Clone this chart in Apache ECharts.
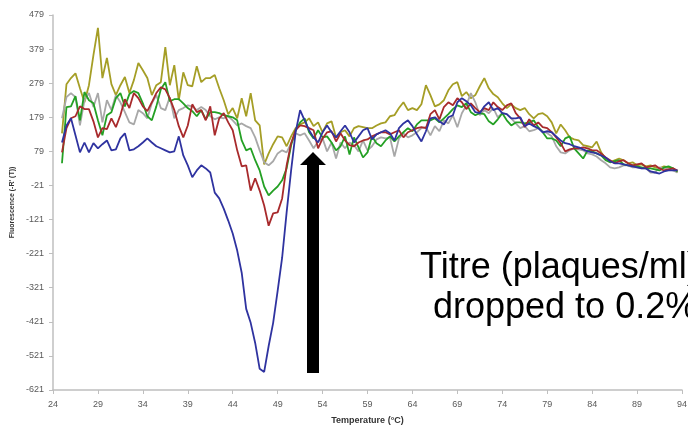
<!DOCTYPE html>
<html>
<head>
<meta charset="utf-8">
<script src="https://cdn.jsdelivr.net/npm/echarts@6/dist/echarts.min.js"></script>
<style>
html,body{margin:0;padding:0;background:#fff;}
#chart{width:688px;height:427px;}
</style>
</head>
<body>
<div id="chart"></div>
<script>
// Temperature (°C) sample points
const temps = [
25,25.5,26,26.5,27,27.5,28,28.5,29,29.5,
30,30.5,31,31.5,32,32.5,33,33.5,34,34.5,
35,35.5,36,36.5,37,37.5,38,38.5,39,39.5,
40,40.5,41,41.5,42,42.5,43,43.5,44,44.5,
45,45.5,46,46.5,47,47.5,48,48.5,49,49.5,
50,50.5,51,51.5,52,52.5,53,53.5,54,54.5,
55,55.5,56,56.5,57,57.5,58,58.5,59,59.5,
60,60.5,61,61.5,62,62.5,63,63.5,64,64.5,
65,65.5,66,66.5,67,67.5,68,68.5,69,69.5,
70,70.5,71,71.5,72,72.5,73,73.5,74,74.5,
75,75.5,76,76.5,77,77.5,78,78.5,79,79.5,
80,80.5,81,81.5,82,82.5,83,83.5,84,84.5,
85,85.5,86,86.5,87,87.5,88,88.5,89,89.5,
90,90.5,91,91.5,92,92.5,93,93.5
];

const blueSeries = [
105,155,176,126,76,105,76,103,88,100,
111,82,85,117,132,82,85,94,105,117,
105,94,88,82,76,79,123,67,38,3,
23,38,29,17,-42,-59,-89,-124,-162,-212,
-277,-383,-424,-483,-559,-568,-492,-424,-330,-233,
-100,23,135,200,170,141,120,105,135,155,
135,120,138,155,135,105,123,141,147,114,
129,135,141,132,111,147,161,170,153,129,
108,138,176,179,167,158,179,185,223,235,
226,214,194,191,211,223,200,206,191,188,
176,176,179,153,161,153,147,135,138,135,
123,111,103,100,94,91,85,79,76,73,
67,61,50,44,44,41,38,35,32,29,
29,20,17,14,20,23,23,23
];

const oliveSeries = [
132,276,294,308,264,223,273,361,441,294,
353,276,244,273,297,250,288,338,317,294,
244,273,282,385,273,332,229,311,273,270,
329,282,294,294,303,264,229,188,206,176,
235,182,250,170,155,41,73,100,123,120,
94,123,147,158,164,176,153,164,135,161,
167,120,135,141,123,147,153,150,147,147,
155,161,164,182,185,206,223,200,206,200,
217,273,244,211,217,229,258,276,282,241,
253,235,244,270,294,264,247,238,220,206,
217,206,200,206,188,176,188,191,182,164,
132,158,141,120,114,111,97,94,91,108,
76,58,47,53,58,53,44,47,38,41,
35,38,32,29,35,32,29,17
];

const graySeries = [
176,238,250,238,155,229,250,209,250,164,
229,200,244,223,194,164,158,200,191,176,
220,244,206,200,238,176,200,206,214,211,
200,209,200,182,173,179,176,182,170,155,
161,153,147,120,82,47,38,50,73,82,
76,103,132,126,132,111,88,108,117,79,
105,58,105,88,105,97,79,111,82,94,
114,120,117,120,64,117,132,120,126,135,
147,150,126,153,138,170,161,185,150,191,
214,250,223,185,200,191,206,179,191,188,
176,161,147,153,138,141,147,138,132,123,
94,76,73,82,88,85,82,73,70,64,
53,44,32,29,32,38,38,32,32,29,
29,17,17,32,29,26,23,17
];

const redSeries = [
76,147,176,182,211,203,203,167,120,147,
144,176,150,185,232,206,250,235,211,197,
223,250,267,261,235,200,153,120,155,217,
194,200,170,211,126,176,191,164,141,82,
35,38,-36,0,-36,-80,-139,-103,-100,-59,
38,103,141,155,153,147,141,88,117,135,
138,108,132,111,97,94,105,111,114,123,
129,135,135,129,135,141,120,135,141,147,
150,147,188,200,173,209,223,214,235,223,
203,220,206,194,206,200,223,209,200,214,
220,191,176,150,173,155,164,150,147,135,
120,103,79,85,88,88,91,88,82,82,
73,61,53,44,50,53,44,38,41,44,
32,35,38,29,23,26,29,23
];

const greenSeries = [
44,209,211,241,170,253,229,220,170,126,
185,194,235,250,211,247,256,250,220,182,
170,211,261,282,226,232,232,220,206,197,
182,200,173,194,194,191,185,182,179,170,
111,82,88,53,23,-24,-50,-36,-24,-6,
29,97,141,164,176,135,117,141,120,123,
105,82,94,123,70,120,91,61,76,123,
103,94,111,123,108,123,135,147,138,158,
170,170,170,176,164,176,188,203,214,209,
220,194,185,191,188,167,158,173,191,170,
155,164,164,161,164,170,150,135,117,117,
111,94,117,123,88,73,58,82,79,73,
67,53,47,50,53,41,38,38,35,32,
29,29,26,23,32,35,29,20
];

const xTicks = [24,29,34,39,44,49,54,59,64,69,74,79,84,89,94];
const yTicks = [-621,-521,-421,-321,-221,-121,-21,79,179,279,379,479];

const seriesDefs = [
  {name:'Olive', data: oliveSeries, color:'#A59E26'},
  {name:'Gray', data: graySeries, color:'#A8A8A8'},
  {name:'Green', data: greenSeries, color:'#24A024'},
  {name:'Red', data: redSeries, color:'#A82A2C'},
  {name:'Blue', data: blueSeries, color:'#2F33A0'}
];

const chart = echarts.init(document.getElementById('chart'), null, {renderer:'canvas'});
const labelFont = 'Liberation Sans, Arial, sans-serif';
chart.setOption({
  animation:false,
  backgroundColor:'#ffffff',
  grid:{left:53, right:6, top:15, bottom:37, outerBoundsMode:'none', containLabel:false},
  xAxis:{
    type:'value', min:24, max:94,
    name:'Temperature (°C)', nameLocation:'middle', nameGap:26,
    nameTextStyle:{fontSize:9, fontWeight:'bold', color:'#333', fontFamily:labelFont},
    axisLine:{show:true, onZero:false, lineStyle:{color:'#BFBFBF', width:1.5}},
    axisTick:{show:true, length:4, lineStyle:{color:'#BFBFBF'}, customValues:xTicks},
    axisLabel:{fontSize:9, color:'#595959', margin:10, fontFamily:labelFont, customValues:xTicks},
    splitLine:{show:false}
  },
  yAxis:{
    type:'value', min:-621, max:479,
    name:"Fluorescence (-R' (T))", nameLocation:'middle', nameGap:36, nameRotate:90,
    nameTextStyle:{fontSize:7, fontWeight:'bold', color:'#333', fontFamily:labelFont},
    axisLine:{show:true, onZero:false, lineStyle:{color:'#BFBFBF', width:1.5}},
    axisTick:{show:true, length:4, lineStyle:{color:'#BFBFBF'}, customValues:yTicks},
    axisLabel:{fontSize:9, color:'#595959', margin:9, fontFamily:labelFont, customValues:yTicks},
    splitLine:{show:false}
  },
  series: seriesDefs.map(s => ({
    name:s.name, type:'line', showSymbol:false, symbol:'none',
    data: temps.map((t,i)=>[t, s.data[i]]),
    lineStyle:{color:s.color, width:1.8},
    itemStyle:{color:s.color},
    z:2
  })),
  graphic:[
    {type:'polygon', z:100, shape:{points:[[307,373],[319,373],[319,165],[326,165],[313,152],[300,165],[307,165]]}, style:{fill:'#000'}},
    {type:'text', z:100, x:420, y:268, style:{text:'Titre (plaques/ml)', font:'36px Liberation Sans, Arial, sans-serif', fill:'#000', verticalAlign:'middle', align:'left'}},
    {type:'text', z:100, x:433, y:308, style:{text:'dropped to 0.2%)', font:'36px Liberation Sans, Arial, sans-serif', fill:'#000', verticalAlign:'middle', align:'left'}}
  ]
});
</script>
</body>
</html>
